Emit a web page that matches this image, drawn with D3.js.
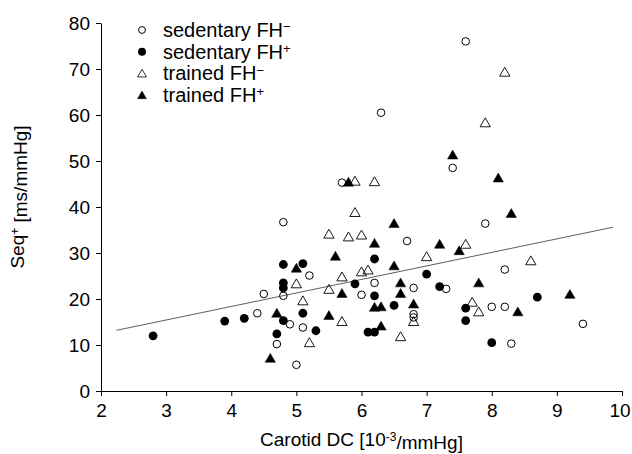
<!DOCTYPE html>
<html>
<head>
<meta charset="utf-8">
<script src="https://cdn.jsdelivr.net/npm/d3@7"></script>
<style>
  body { margin: 0; background: #fff; }
  svg text { font-family: Arial, "Liberation Sans", sans-serif; fill: #000; }
</style>
</head>
<body>
<svg id="chart" width="632" height="454"></svg>
<script>
// sedentary FH- (open circles)
const sedNeg = [
  [4.8, 36.7], [5.7, 45.3], [6.3, 60.5], [7.6, 76], [7.4, 48.5], [7.9, 36.4],
  [6.7, 32.6], [5.2, 25.1], [6.2, 23.5], [6.8, 22.4], [7.3, 22.2], [8.2, 26.4],
  [4.5, 21.1], [4.8, 20.7], [6.0, 20.9], [4.4, 16.9], [4.9, 14.5], [5.1, 13.8],
  [4.7, 10.2], [5.0, 5.7], [6.8, 16.7], [6.8, 16.0], [8.0, 18.3], [8.2, 18.3],
  [9.4, 14.6], [8.3, 10.3]
];
// sedentary FH+ (filled circles)
const sedPos = [
  [2.8, 12.0], [3.9, 15.2], [4.2, 15.8], [4.8, 27.5], [5.1, 27.7], [4.8, 23.5],
  [4.8, 22.4], [4.8, 15.3], [5.1, 16.9], [4.7, 12.4], [5.3, 13.1], [5.9, 23.3],
  [6.2, 28.7], [6.2, 20.7], [6.5, 18.6], [6.1, 12.8], [6.2, 12.8], [7.0, 25.4],
  [7.2, 22.7], [7.6, 18.0], [7.6, 15.3], [8.0, 10.5], [8.7, 20.4]
];
// trained FH- (open triangles)
const trNeg = [
  [8.2, 69.3], [7.9, 58.3], [5.9, 45.6], [6.2, 45.5], [5.9, 38.8], [5.5, 34.1],
  [5.8, 33.5], [6.0, 33.9], [7.0, 29.2], [7.6, 31.9], [8.6, 28.3], [5.7, 24.8],
  [6.0, 25.9], [6.1, 26.3], [5.0, 23.3], [5.5, 22.1], [5.1, 19.6], [5.7, 15.1],
  [5.2, 10.5], [6.8, 15.1], [6.6, 11.8], [7.7, 19.3], [7.8, 17.2]
];
// trained FH+ (filled triangles)
const trPos = [
  [5.8, 45.4], [6.5, 36.4], [6.2, 32.1], [5.6, 29.3], [6.5, 27.2], [5.0, 26.7],
  [7.2, 31.9], [7.5, 30.5], [7.4, 51.3], [8.1, 46.3], [8.3, 38.6], [5.7, 21.2],
  [6.6, 23.5], [6.6, 21.2], [6.8, 18.9], [6.2, 18.2], [6.3, 18.3], [4.7, 16.9],
  [5.5, 16.4], [6.3, 14.1], [4.6, 7.1], [7.8, 23.5], [8.4, 17.2], [9.2, 21.0]
];

// regression line end points
const fitX = [2.24, 9.86];
const fitY = [13.2, 35.6];

const xTicks = [2, 3, 4, 5, 6, 7, 8, 9, 10];
const yTicks = [0, 10, 20, 30, 40, 50, 60, 70, 80];

const legendNames = ["sedentary FH", "sedentary FH", "trained FH", "trained FH"];
const legendSups = ["\u2212", "+", "\u2212", "+"];

const svg = d3.select("#chart");

const x = d3.scaleLinear().domain([2, 10]).range([101, 622]);
const y = d3.scaleLinear().domain([0, 80]).range([391, 23]);

// axes
const xAxis = svg.append("g")
  .attr("transform", `translate(0, ${y(0)})`)
  .call(d3.axisBottom(x).tickValues(xTicks).tickSize(5).tickPadding(6).tickSizeOuter(0));
const yAxis = svg.append("g")
  .attr("transform", `translate(${x(2)}, 0)`)
  .call(d3.axisLeft(y).tickValues(yTicks).tickSize(5).tickPadding(6).tickSizeOuter(0));

[xAxis, yAxis].forEach(g => {
  g.select(".domain").attr("stroke", "#000").attr("stroke-width", 1);
  g.selectAll(".tick line").attr("stroke", "#000");
  g.selectAll(".tick text")
    .style("font-size", "19px")
    .style("font-family", "Arial, 'Liberation Sans', sans-serif");
});
xAxis.selectAll(".tick text").attr("dy", "0.8em");
// keep the last label inside the picture
xAxis.selectAll(".tick text").filter(d => d === 10).attr("dx", "-2.5");

// regression line
svg.append("line")
  .attr("x1", x(fitX[0])).attr("y1", y(fitY[0]))
  .attr("x2", x(fitX[1])).attr("y2", y(fitY[1]))
  .attr("stroke", "#333").attr("stroke-width", 0.8);

const tri = d3.symbol().type(d3.symbolTriangle).size(46);

function drawCircles(data, filled) {
  svg.append("g").selectAll("circle")
    .data(data)
    .enter().append("circle")
    .attr("cx", d => x(d[0]))
    .attr("cy", d => y(d[1]))
    .attr("r", filled ? 4.4 : 3.8)
    .attr("fill", filled ? "#000" : "#fff")
    .attr("fill-opacity", filled ? 1 : 0)
    .attr("stroke", "#000")
    .attr("stroke-width", filled ? 0 : 1);
}

function drawTriangles(data, filled) {
  svg.append("g").selectAll("path")
    .data(data)
    .enter().append("path")
    .attr("d", tri)
    .attr("transform", d => `translate(${x(d[0])}, ${y(d[1]) + 1})`)
    .attr("fill", filled ? "#000" : "none")
    .attr("stroke", "#000")
    .attr("stroke-width", filled ? 0.5 : 0.9);
}

drawCircles(sedNeg, false);
drawCircles(sedPos, true);
drawTriangles(trNeg, false);
drawTriangles(trPos, true);

// legend
const legend = svg.append("g").attr("transform", "translate(142, 30)");
legendNames.forEach((name, i) => {
  const row = legend.append("g").attr("transform", `translate(0, ${i * 21.7})`);
  if (i < 2) {
    row.append("circle").attr("r", i === 0 ? 3.4 : 4)
      .attr("fill", i === 0 ? "none" : "#000")
      .attr("stroke", "#000").attr("stroke-width", i === 0 ? 1 : 0);
  } else {
    row.append("path").attr("d", d3.symbol().type(d3.symbolTriangle).size(34))
      .attr("transform", "translate(0, 1)")
      .attr("fill", i === 2 ? "none" : "#000")
      .attr("stroke", "#000").attr("stroke-width", i === 2 ? 0.8 : 0.5);
  }
  const t = row.append("text").attr("x", 21).attr("y", 7)
    .style("font-size", "20px");
  t.append("tspan").text(name);
  t.append("tspan").attr("dy", "-0.45em").style("font-size", "13px").text(legendSups[i]);
});

// axis titles
const xt = svg.append("text")
  .attr("x", (x(2) + x(10)) / 2)
  .attr("y", 446)
  .attr("text-anchor", "middle")
  .style("font-size", "19px");
xt.append("tspan").text("Carotid DC [10");
xt.append("tspan").attr("dy", "-0.45em").style("font-size", "12px").text("-3");
xt.append("tspan").attr("dy", "0.45em").text("/mmHg]");

const yt = svg.append("text")
  .attr("transform", `translate(24, 197) rotate(-90)`)
  .attr("text-anchor", "middle")
  .style("font-size", "19px");
yt.append("tspan").text("Seq");
yt.append("tspan").attr("dy", "-0.45em").style("font-size", "12px").text("+");
yt.append("tspan").attr("dy", "0.45em").text(" [ms/mmHg]");
</script>
</body>
</html>
